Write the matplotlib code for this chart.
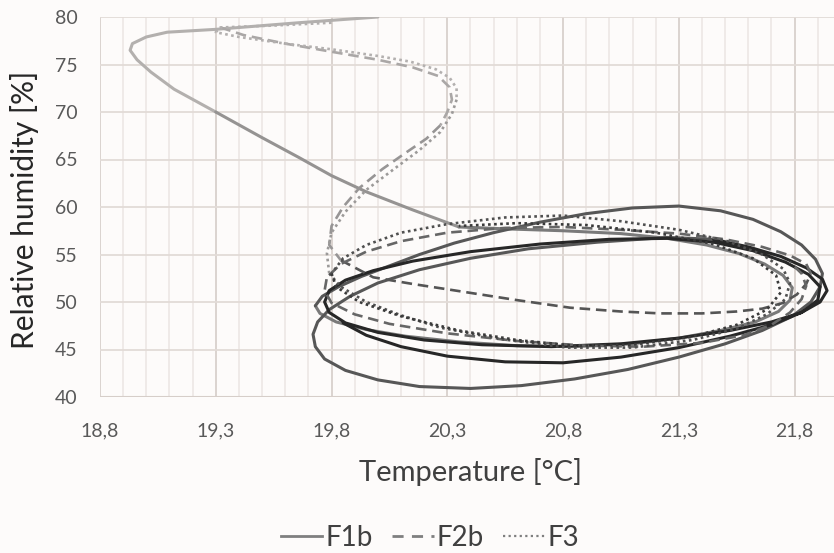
import numpy as np
import matplotlib.pyplot as plt
from matplotlib.ticker import FixedLocator, FuncFormatter
from matplotlib.lines import Line2D

plt.rcParams['font.family'] = ['Lato', 'DejaVu Sans']

# values; each series is split in phases (older -> newer)
f1b_temp = [
    [20.00, 19.66, 19.30, 19.09, 19.00, 18.94, 18.93, 18.96, 19.02, 19.12, 19.30],
    [19.50, 19.66, 19.80, 19.95, 20.15, 20.35],
    [20.55, 20.80, 21.05, 21.25, 21.42, 21.56, 21.67, 21.75, 21.79, 21.78, 21.73,
     21.63, 21.48, 21.30, 21.10, 20.85, 20.60, 20.35, 20.12, 19.95, 19.82, 19.75,
     19.73],
    [19.76, 19.83, 19.93, 20.05, 20.18, 20.33, 20.50, 20.70, 20.90, 21.10, 21.30,
     21.48, 21.62, 21.74, 21.83, 21.89, 21.92, 21.91, 21.87, 21.79, 21.66, 21.50,
     21.30, 21.08, 20.85, 20.62, 20.40, 20.18, 20.00, 19.86, 19.77, 19.73, 19.72,
     19.74, 19.79, 19.88, 20.00, 20.18, 20.40, 20.65, 20.95, 21.25, 21.45],
    [21.60, 21.74, 21.85, 21.92, 21.94, 21.91, 21.83, 21.70, 21.52, 21.30, 21.05,
     20.75, 20.45, 20.20, 20.00, 19.86, 19.79, 19.77, 19.79, 19.86, 19.98, 20.15,
     20.40, 20.70, 21.00, 21.25, 21.45, 21.62, 21.76, 21.86, 21.91, 21.90, 21.83,
     21.70, 21.52, 21.30, 21.05, 20.80, 20.55, 20.30, 20.10, 19.95, 19.85],
]
f1b_rh = [
    [80.0, 79.4, 78.7, 78.4, 77.9, 77.2, 76.5, 75.5, 74.2, 72.4, 70.0],
    [67.3, 65.2, 63.3, 61.6, 59.7, 57.9],
    [57.7, 57.5, 57.2, 56.7, 56.0, 55.1, 54.0, 52.8, 51.5, 50.2, 49.0,
     47.9, 47.0, 46.2, 45.6, 45.3, 45.4, 45.8, 46.4, 47.1, 47.9, 48.8,
     49.6],
    [50.6, 51.6, 52.7, 53.8, 55.0, 56.2, 57.3, 58.4, 59.3, 59.9, 60.1,
     59.6, 58.7, 57.4, 56.0, 54.5, 53.0, 51.6, 50.0, 48.5, 47.0, 45.6,
     44.2, 42.9, 41.9, 41.2, 40.9, 41.1, 41.8, 42.8, 44.0, 45.3, 46.6,
     47.9, 49.2, 50.6, 52.0, 53.4, 54.6, 55.6, 56.3, 56.8, 56.6],
    [55.8, 54.8, 53.6, 52.4, 51.2, 50.0, 48.9, 47.9, 47.0, 46.2, 45.6,
     45.3, 45.5, 46.0, 46.8, 47.8, 48.9, 50.0, 51.2, 52.3, 53.3, 54.3,
     55.3, 56.1, 56.6, 56.7, 56.3, 55.4, 54.2, 52.9, 51.6, 50.2, 48.9,
     47.6, 46.4, 45.2, 44.2, 43.6, 43.7, 44.3, 45.3, 46.5, 47.8],
]

f2b_temp = [
    [19.32, 19.42, 19.60, 19.81, 20.00, 20.15, 20.26, 20.31, 20.32, 20.30, 20.27],
    [20.21, 20.12, 20.02, 19.92, 19.85, 19.80, 19.79, 19.84],
    [19.98, 20.15, 20.31, 20.60, 20.83, 21.05, 21.22, 21.40, 21.55, 21.66, 21.75,
     21.81, 21.85, 21.87],
    [21.85, 21.78, 21.66, 21.50, 21.30, 21.05, 20.80, 20.55, 20.30, 20.10, 19.95,
     19.84, 19.78, 19.77, 19.80, 19.90, 20.05, 20.30, 20.60, 20.90, 21.15, 21.40,
     21.58, 21.70, 21.78, 21.83, 21.85, 21.83, 21.78],
]
f2b_rh = [
    [78.9, 78.1, 77.2, 76.3, 75.5, 74.7, 73.8, 72.6, 71.3, 70.0, 68.6],
    [67.2, 65.7, 64.0, 62.0, 60.0, 58.0, 56.0, 54.4],
    [52.6, 51.9, 51.3, 50.2, 49.4, 49.0, 48.8, 48.8, 49.0, 49.3, 49.9,
     50.8, 51.9, 53.0],
    [54.0, 54.9, 55.8, 56.6, 57.2, 57.6, 57.9, 57.8, 57.3, 56.4, 55.3,
     54.0, 52.6, 51.2, 49.9, 48.7, 47.7, 46.7, 45.9, 45.4, 45.3, 45.7,
     46.5, 47.6, 48.9, 50.3, 51.7, 53.0, 54.2],
]

f3_temp = [
    [19.80, 19.55, 19.32, 19.30, 19.40, 19.60, 19.80, 20.00, 20.14, 20.25, 20.31,
     20.34, 20.34],
    [20.32, 20.27, 20.18, 20.07, 19.95, 19.86, 19.80, 19.78, 19.79],
    [19.84, 19.95, 20.10, 20.27, 20.53, 20.82, 21.10, 21.36, 21.55, 21.68, 21.76,
     21.78, 21.75, 21.66, 21.51, 21.30, 21.05, 20.80, 20.55, 20.30, 20.10, 19.95,
     19.85, 19.80],
    [19.82, 19.92, 20.10, 20.35, 20.60, 20.85, 21.10, 21.35, 21.55, 21.68, 21.74,
     21.72, 21.62, 21.45, 21.20, 20.90, 20.60, 20.35],
]
f3_rh = [
    [79.4, 79.1, 78.9, 78.4, 77.9, 77.2, 76.6, 75.9, 75.3, 74.5, 73.6,
     72.5, 71.3],
    [69.8, 67.9, 66.0, 64.0, 61.8, 59.5, 57.3, 55.1, 53.0],
    [51.6, 50.0, 48.6, 47.3, 46.1, 45.2, 45.2, 46.0, 47.2, 48.7, 50.3,
     52.0, 53.5, 55.0, 56.4, 57.6, 58.5, 59.1, 58.9, 58.2, 57.3, 56.0,
     54.6, 53.0],
    [51.6, 50.0, 48.5, 47.0, 46.0, 45.4, 45.5, 46.3, 47.6, 49.2, 51.0,
     52.8, 54.6, 56.1, 57.3, 58.1, 58.3, 58.0],
]

x_ticks = [18.8, 19.3, 19.8, 20.3, 20.8, 21.3, 21.8]
y_ticks = [40, 45, 50, 55, 60, 65, 70, 75, 80]

# colours get darker with time
f1b_colors = ['#b3b0ae', '#959392', '#7a7a7a', '#575757', '#272727']
f2b_colors = ['#aaa7a6', '#979595', '#555555', '#666666']
f3_colors = ['#b3b0af', '#9c9a99', '#505050', '#3a3a3a']

bg = '#fdfbfa'
fig = plt.figure(figsize=(8.34, 5.53), dpi=100, facecolor=bg)
ax = fig.add_axes([100 / 834, 1 - 397 / 553, 734 / 834, 380 / 553], facecolor=bg)


def draw(temps, rhs, colors, ls, lw):
    px, py = None, None
    for t, r, c in zip(temps, rhs, colors):
        xs = list(t) if px is None else [px] + list(t)
        ys = list(r) if py is None else [py] + list(r)
        ax.plot(xs, ys, color=c, lw=lw, linestyle=ls, solid_joinstyle='round',
                solid_capstyle='round', zorder=3)
        px, py = t[-1], r[-1]


draw(f1b_temp, f1b_rh, f1b_colors, '-', 2.2)
draw(f2b_temp, f2b_rh, f2b_colors, (0, (4, 2.2)), 1.9)
draw(f3_temp, f3_rh, f3_colors, (0, (1, 1.3)), 1.9)

ax.set_xlim(18.8, 21.97)
ax.set_ylim(40, 80)
ax.xaxis.set_major_locator(FixedLocator(x_ticks))
ax.xaxis.set_minor_locator(FixedLocator(np.round(np.arange(18.8, 22.0, 0.1), 2)))
ax.yaxis.set_major_locator(FixedLocator(y_ticks))
ax.xaxis.set_major_formatter(FuncFormatter(lambda v, p: f'{v:.1f}'.replace('.', ',')))
ax.yaxis.set_major_formatter(FuncFormatter(lambda v, p: f'{v:.0f}'))
ax.tick_params(which='both', length=0)
ax.tick_params(axis='x', pad=18, labelsize=14, labelcolor='#595959')
ax.tick_params(axis='y', pad=16, labelsize=14, labelcolor='#595959')

ax.set_axisbelow(True)
ax.grid(which='major', axis='x', color='#d8d0cc', lw=1.3)
ax.grid(which='major', axis='y', color='#e2dbd7', lw=1.3)
ax.grid(which='minor', axis='x', color='#ece6e3', lw=1.1)
for s in ax.spines.values():
    s.set_visible(False)
ax.axhline(40, color='#d6cec9', lw=1.5, zorder=1)

fig.text(25 / 834, 1 - 210 / 553, 'Relative humidity [%]', rotation=90,
         ha='center', va='center', fontsize=21.5, color='#262626')
fig.text(470 / 834, 1 - 472 / 553, 'Temperature [°C]', ha='center', va='center',
         fontsize=21, color='#404040')

handles = [
    Line2D([], [], color='#7f7f7f', lw=2.0, ls='-'),
    Line2D([], [], color='#7f7f7f', lw=2.0, ls=(0, (4, 3))),
    Line2D([], [], color='#7f7f7f', lw=1.6, ls=(0, (1, 1.5))),
]
fig.legend(handles, ['F1b', 'F2b', 'F3'], loc='center', ncol=3,
           bbox_to_anchor=(430 / 834, 1 - 538 / 553), frameon=False,
           fontsize=20, handlelength=1.5, handletextpad=0.1, columnspacing=0.7,
           labelcolor='#404040')

fig.savefig('out.png', dpi=100, facecolor=bg)
plt.close(fig)
